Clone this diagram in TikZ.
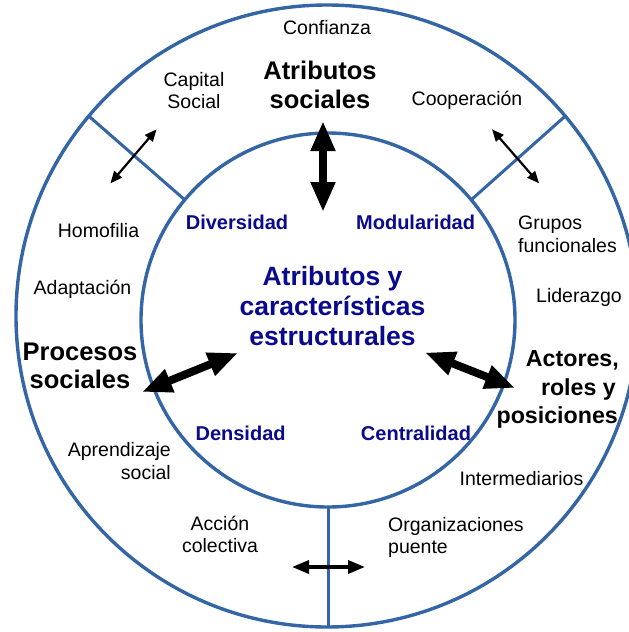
\documentclass[tikz,border=0pt]{standalone}
\usepackage{fontspec}
\setmainfont{Liberation Sans}
\usetikzlibrary{arrows.meta}
\definecolor{ringblue}{RGB}{52,101,164}
\definecolor{navytext}{RGB}{10,10,140}
\tikzset{
 ring/.style={circle, draw=ringblue, line width=3.4pt, inner sep=0pt, outer sep=0pt},
 divider/.style={draw=ringblue, line width=3pt},
 reg/.style={font=\fontsize{19.5}{22.5}\selectfont, inner sep=0pt, anchor=base},
 big/.style={font=\fontsize{25.5}{28.3}\selectfont\bfseries, inner sep=0pt, anchor=base},
 bigsm/.style={font=\fontsize{23.2}{28.3}\selectfont\bfseries, inner sep=0pt, anchor=base east},
 struct/.style={font=\fontsize{20}{24}\selectfont\bfseries, text=navytext, inner sep=0pt, anchor=base},
 core/.style={font=\fontsize{26.5}{30}\selectfont\bfseries, text=navytext, inner sep=0pt, anchor=base},
 bigarrow/.style={line width=8pt, {Triangle[length=30pt,width=23pt]}-{Triangle[length=30pt,width=23pt]}},
 thinarrow/.style={line width=2.2pt, {Triangle[length=12pt,width=10pt]}-{Triangle[length=12pt,width=10pt]}},
 midarrow/.style={line width=3.5pt, {Triangle[length=17pt,width=13pt]}-{Triangle[length=17pt,width=13pt]}},
}
\begin{document}
\begin{tikzpicture}[x=1pt,y=-1pt]
\clip (0,0) rectangle (629,632);
\fill[white] (0,0) rectangle (629,632);
% rings
\node[ring, minimum size=622pt] (outer) at (327,316) {};
\node[ring, minimum size=374pt] (inner) at (328,320) {};
\draw[divider] (outer.140) -- (inner.140);
\draw[divider] (outer.40) -- (inner.40);
\draw[divider] (inner.south) -- (inner.south |- outer.south);
% outer ring texts
\node[reg] (conf) at (327,34) {Confianza};
\node[reg] (cap1) at (194,86) {Capital};
\node[reg] (cap2) at (194,108) {Social};
\node[big] (as1) at (320,79.5) {Atributos};
\node[big] (as2) at (320,108) {sociales};
\node[reg] (coop) at (467,105) {Cooperación};
\node[reg] (homo) at (98.5,237.5) {Homofilia};
\node[reg, anchor=base west] (gf1) at (518,229.5) {Grupos};
\node[reg, anchor=base west] (gf2) at (518,252) {funcionales};
\node[reg] (adap) at (82.5,294.5) {Adaptación};
\node[reg] (lid) at (579,302) {Liderazgo};
\node[big] (ps1) at (80,360) {Procesos};
\node[big] (ps2) at (80,388.3) {sociales};
\node[bigsm] (ar1) at (619,366.7) {Actores,};
\node[bigsm] (ar2) at (616,395) {roles y};
\node[bigsm] (ar3) at (618,423.3) {posiciones};
\node[reg, anchor=base east] (ap1) at (171,456) {Aprendizaje};
\node[reg, anchor=base east] (ap2) at (171,479) {social};
\node[reg] (inter) at (521.5,485) {Intermediarios};
\node[reg] (ac1) at (220,530) {Acción};
\node[reg] (ac2) at (220,552.5) {colectiva};
\node[reg, anchor=base west] (op1) at (388,531.5) {Organizaciones};
\node[reg, anchor=base west] (op2) at (388,553.5) {puente};
% inner ring texts
\node[struct] (div) at (237,229.3) {Diversidad};
\node[struct] (mod) at (415.6,229.3) {Modularidad};
\node[struct] (den) at (240.6,440.7) {Densidad};
\node[struct] (cen) at (416,440.7) {Centralidad};
\node[core] (c1) at (332.5,285) {Atributos y};
\node[core] (c2) at (332.5,315) {características};
\node[core] (c3) at (332.5,345) {estructurales};
% arrow ends
\coordinate (vt) at (323,121);
\coordinate (vb) at (323,212);
\coordinate (lo) at (142,392);
\coordinate (li) at (238,353);
\coordinate (ri) at (425,352.5);
\coordinate (ro) at (515,388);
\coordinate (ula) at (110.4,183.3);
\coordinate (ulb) at (156.6,129.3);
\coordinate (ura) at (492,129.3);
\coordinate (urb) at (539,183.3);
\coordinate (bl) at (292,567);
\coordinate (br) at (365,567);
% arrows
\draw[bigarrow] (vt) -- (vb);
\draw[bigarrow] (lo) -- (li);
\draw[bigarrow] (ri) -- (ro);
\draw[thinarrow] (ula) -- (ulb);
\draw[thinarrow] (ura) -- (urb);
\draw[midarrow] (bl) -- (br);
\end{tikzpicture}
\end{document}
